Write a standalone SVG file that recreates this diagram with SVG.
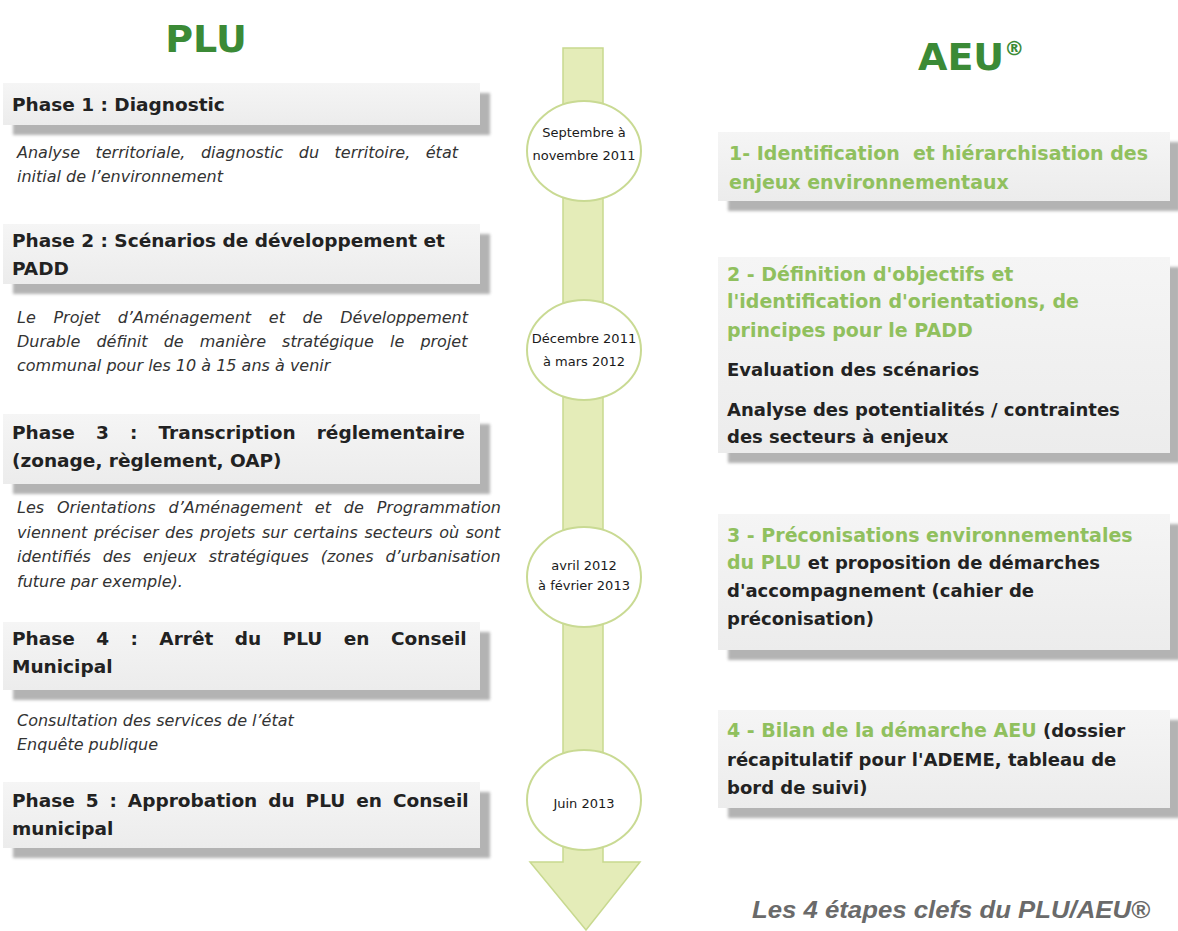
<svg xmlns="http://www.w3.org/2000/svg" width="1178" height="931" viewBox="0 0 1178 931">
<defs>
  <linearGradient id="boxg" x1="0" y1="0" x2="0" y2="1">
    <stop offset="0" stop-color="#f5f5f5"/>
    <stop offset="1" stop-color="#ececec"/>
  </linearGradient>
  <filter id="blur" x="-5%" y="-20%" width="110%" height="140%">
    <feGaussianBlur stdDeviation="1.5"/>
  </filter>
</defs>
<style>
  .shadow { fill: #b3b3b3; filter: url(#blur); }
  .box { fill: url(#boxg); }
  .title { font-family: "DejaVu Sans", sans-serif; font-weight: bold; font-size: 38px; fill: #3b8a36; }
  .hdr { font-family: "DejaVu Sans", sans-serif; font-weight: bold; font-size: 18.5px; fill: #222; }
  .desc { font-family: "DejaVu Sans", sans-serif; font-style: italic; font-size: 16px; fill: #333; }
  .grn { font-family: "DejaVu Sans", sans-serif; font-weight: bold; font-size: 19px; fill: #90c05e; }
  .blk { font-family: "DejaVu Sans", sans-serif; font-weight: bold; font-size: 18px; fill: #222; }
  .gspan { fill: #90c05e; }
  .date { font-family: "DejaVu Sans", sans-serif; font-size: 13px; fill: #1a1a1a; text-anchor: middle; }
  .ell { fill: #ffffff; stroke: #c9da93; stroke-width: 2; }
  .arrow { fill: #e4ecb8; stroke: #c8d98f; stroke-width: 1.5; }
  .caption { font-family: "Liberation Sans", Arial, sans-serif; font-style: italic; font-weight: bold; font-size: 23px; fill: #6a6a6a; }
</style>
<rect width="1178" height="931" fill="#ffffff"/>

<text class="title" x="206" y="52" text-anchor="middle">PLU</text>
<text class="title" x="918" y="70">AEU<tspan font-size="20" dy="-15">®</tspan></text>

<g id="connectors">
  <path class="arrow" d="M563,48 H603 V862 H640 L586,930 L530,862 H563 Z"/>
</g>

<!-- PLU phases -->
<g id="phase1">
  <rect class="shadow" x="13" y="93" width="477" height="42"/>
  <rect class="box" x="3" y="83" width="477" height="42"/>
  <text class="hdr" x="12" y="111">Phase 1 : Diagnostic</text>
  <text class="desc" x="17" y="158" word-spacing="10.4">Analyse territoriale, diagnostic du territoire, état</text>
  <text class="desc" x="17" y="182">initial de l’environnement</text>
</g>

<g id="phase2">
  <rect class="shadow" x="13" y="234" width="477" height="60"/>
  <rect class="box" x="3" y="224" width="477" height="60"/>
  <text class="hdr" x="12" y="247">Phase 2 : Scénarios de développement et</text>
  <text class="hdr" x="12" y="275">PADD</text>
  <text class="desc" x="17" y="323" word-spacing="12.6">Le Projet d’Aménagement et de Développement</text>
  <text class="desc" x="17" y="347" word-spacing="11">Durable définit de manière stratégique le projet</text>
  <text class="desc" x="17" y="371">communal pour les 10 à 15 ans à venir</text>
</g>

<g id="phase3">
  <rect class="shadow" x="13" y="424" width="477" height="70"/>
  <rect class="box" x="3" y="414" width="477" height="70"/>
  <text class="hdr" x="12" y="439" word-spacing="14.7">Phase 3 : Transcription réglementaire</text>
  <text class="hdr" x="12" y="467">(zonage, règlement, OAP)</text>
  <text class="desc" x="17" y="513" word-spacing="7.8">Les Orientations d’Aménagement et de Programmation</text>
  <text class="desc" x="17" y="538" word-spacing="1.5">viennent préciser des projets sur certains secteurs où sont</text>
  <text class="desc" x="17" y="562" word-spacing="6.8">identifiés des enjeux stratégiques (zones d’urbanisation</text>
  <text class="desc" x="17" y="587">future par exemple).</text>
</g>

<g id="phase4">
  <rect class="shadow" x="13" y="632" width="477" height="68"/>
  <rect class="box" x="3" y="622" width="477" height="68"/>
  <text class="hdr" x="12" y="645" word-spacing="15">Phase 4 : Arrêt du PLU en Conseil</text>
  <text class="hdr" x="12" y="673">Municipal</text>
  <text class="desc" x="17" y="726">Consultation des services de l’état</text>
  <text class="desc" x="17" y="750">Enquête publique</text>
</g>

<g id="phase5">
  <rect class="shadow" x="13" y="792" width="477" height="66"/>
  <rect class="box" x="3" y="782" width="477" height="66"/>
  <text class="hdr" x="12" y="807" word-spacing="4.5">Phase 5 : Approbation du PLU en Conseil</text>
  <text class="hdr" x="12" y="835">municipal</text>
</g>

<!-- timeline dates -->
<g id="date1">
  <ellipse class="ell" cx="584" cy="151" rx="57" ry="50"/>
  <text class="date" x="584" y="137">Septembre à</text>
  <text class="date" x="584" y="160">novembre 2011</text>
</g>
<g id="date2">
  <ellipse class="ell" cx="584" cy="350" rx="57" ry="50"/>
  <text class="date" x="584" y="343">Décembre 2011</text>
  <text class="date" x="584" y="366">à mars 2012</text>
</g>
<g id="date3">
  <ellipse class="ell" cx="584" cy="577" rx="57" ry="50"/>
  <text class="date" x="584" y="570">avril 2012</text>
  <text class="date" x="584" y="590">à février 2013</text>
</g>
<g id="date4">
  <ellipse class="ell" cx="584" cy="800" rx="57" ry="50"/>
  <text class="date" x="584" y="808">Juin 2013</text>
</g>

<!-- AEU steps -->
<g id="aeu1">
  <rect class="shadow" x="728" y="142" width="452" height="69"/>
  <rect class="box" x="718" y="132" width="452" height="69"/>
  <text class="grn" x="729" y="160" xml:space="preserve">1- Identification  et hiérarchisation des</text>
  <text class="grn" x="729" y="189">enjeux environnementaux</text>
</g>

<g id="aeu2">
  <rect class="shadow" x="728" y="267" width="452" height="196"/>
  <rect class="box" x="718" y="257" width="452" height="196"/>
  <text class="grn" x="727" y="281">2 - Définition d'objectifs et</text>
  <text class="grn" x="727" y="308">l'identification d'orientations, de</text>
  <text class="grn" x="727" y="337">principes pour le PADD</text>
  <text class="blk" x="727" y="376">Evaluation des scénarios</text>
  <text class="blk" x="727" y="416">Analyse des potentialités / contraintes</text>
  <text class="blk" x="727" y="443">des secteurs à enjeux</text>
</g>

<g id="aeu3">
  <rect class="shadow" x="728" y="524" width="452" height="136"/>
  <rect class="box" x="718" y="514" width="452" height="136"/>
  <text class="grn" x="727" y="542">3 - Préconisations environnementales</text>
  <text class="blk" x="727" y="569"><tspan class="gspan" font-size="19">du PLU</tspan> et proposition de démarches</text>
  <text class="blk" x="727" y="597">d'accompagnement (cahier de</text>
  <text class="blk" x="727" y="625">préconisation)</text>
</g>

<g id="aeu4">
  <rect class="shadow" x="728" y="720" width="452" height="98"/>
  <rect class="box" x="718" y="710" width="452" height="98"/>
  <text class="blk" x="727" y="737"><tspan class="gspan" font-size="19">4 - Bilan de la démarche AEU</tspan> (dossier</text>
  <text class="blk" x="727" y="766">récapitulatif pour l'ADEME, tableau de</text>
  <text class="blk" x="727" y="794">bord de suivi)</text>
</g>

<text class="caption" x="752" y="918" textLength="398" lengthAdjust="spacingAndGlyphs">Les 4 étapes clefs du PLU/AEU®</text>
</svg>
